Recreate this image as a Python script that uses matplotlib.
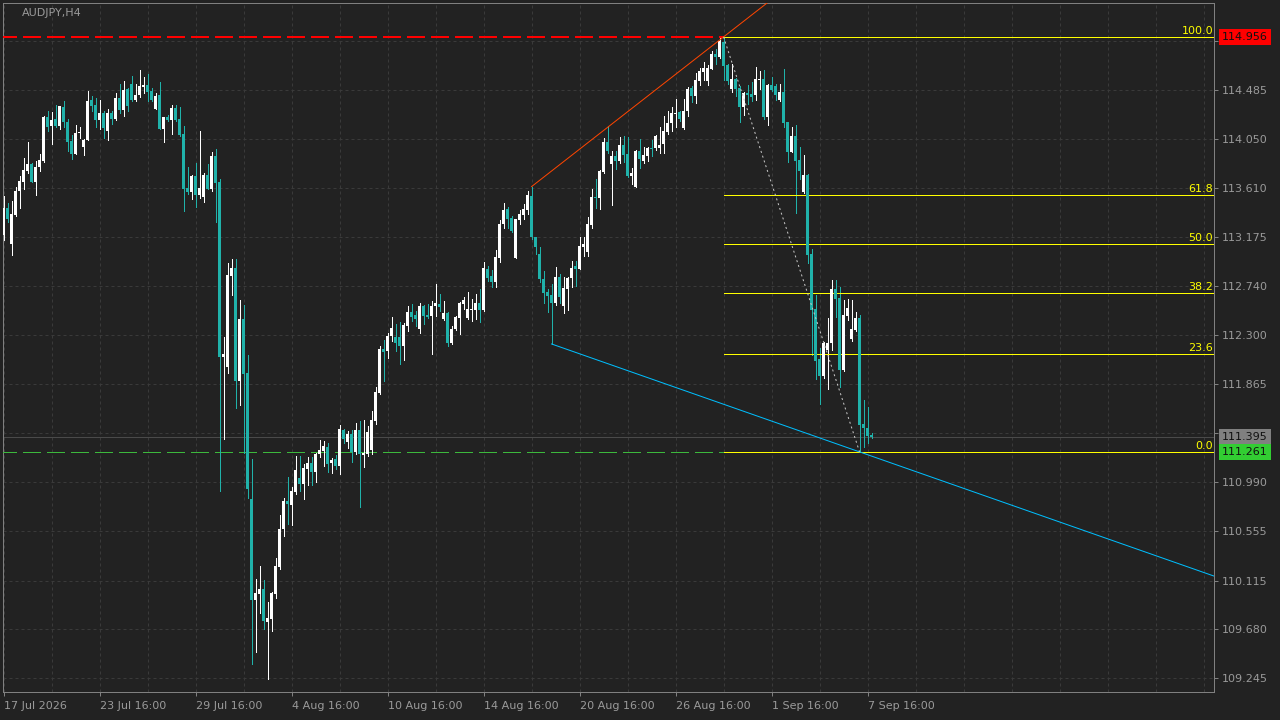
import numpy as np
import matplotlib
matplotlib.use("Agg")
import matplotlib.pyplot as plt
import matplotlib.transforms as mtransforms

symbol = "AUDJPY,H4"

# H4 candles (oldest first)
opens = [
    113.188, 113.431, 113.115, 113.370, 113.581, 113.661, 113.762, 113.824, 113.664, 113.799,
    113.850, 114.242, 114.162, 114.224, 114.162, 114.333, 114.198, 114.031, 113.915, 114.097,
    113.980, 114.035, 114.395, 114.351, 114.217, 114.278, 114.115, 114.278, 114.224, 114.413,
    114.308, 114.493, 114.537, 114.398, 114.435, 114.511, 114.529, 114.475, 114.315, 114.438,
    114.140, 114.242, 114.213, 114.322, 114.224, 114.093, 113.610, 113.577, 113.719, 113.551,
    113.530, 113.726, 113.606, 113.893, 113.664, 112.108, 112.014, 112.827, 112.899, 111.893,
    112.445, 111.964, 110.842, 109.943, 109.996, 110.041, 109.750, 109.773, 109.996, 110.239,
    110.575, 110.824, 110.788, 110.904, 111.029, 110.976, 111.109, 111.162, 111.082, 111.243,
    111.266, 111.305, 111.162, 111.198, 111.136, 111.456, 111.349, 111.421, 111.260, 111.456,
    111.237, 111.243, 111.278, 111.536, 111.786, 112.178, 112.160, 112.293, 112.284, 112.284,
    112.204, 112.382, 112.507, 112.480, 112.356, 112.560, 112.480, 112.471, 112.560, 112.578,
    112.445, 112.498, 112.228, 112.359, 112.457, 112.578, 112.457, 112.528, 112.528, 112.587,
    112.528, 112.890, 112.828, 112.777, 112.988, 113.291, 113.424, 113.347, 112.991, 113.326,
    113.371, 113.415, 113.543, 113.175, 113.024, 112.801, 112.688, 112.658, 112.584, 112.819,
    112.563, 112.715, 112.810, 112.917, 112.893, 113.089, 113.041, 113.282, 113.531, 113.525,
    113.757, 114.021, 113.828, 113.896, 113.855, 113.991, 113.914, 113.721, 113.623, 113.941,
    113.855, 113.896, 113.970, 113.964, 113.970, 114.006, 114.113, 114.187, 114.273, 114.291,
    114.145, 114.297, 114.502, 114.433, 114.567, 114.647, 114.567, 114.674, 114.807, 114.778,
    114.911, 114.709, 114.493, 114.582, 114.502, 114.335, 114.457, 114.448, 114.439, 114.573,
    114.582, 114.243, 114.528, 114.519, 114.395, 114.466, 114.199, 113.932, 114.074, 113.861,
    113.576, 113.727, 113.024, 112.534, 112.089, 111.937, 112.169, 112.231, 112.712, 112.632,
    111.991, 112.471, 112.267, 112.347, 112.454, 111.510, 111.474, 111.412,
]
highs = [
    113.541, 113.479, 113.497, 113.624, 113.715, 113.879, 114.017, 113.835, 113.850, 113.911,
    114.253, 114.293, 114.289, 114.351, 114.344, 114.388, 114.224, 114.086, 114.169, 114.151,
    114.049, 114.475, 114.431, 114.409, 114.395, 114.293, 114.315, 114.293, 114.453, 114.537,
    114.566, 114.504, 114.609, 114.533, 114.664, 114.598, 114.627, 114.497, 114.460, 114.555,
    114.242, 114.264, 114.351, 114.351, 114.333, 114.162, 113.799, 113.726, 113.835, 114.115,
    113.744, 113.824, 113.933, 113.959, 113.690, 112.283, 112.944, 112.979, 112.979, 112.614,
    112.569, 112.124, 111.198, 110.130, 110.245, 110.121, 109.925, 110.011, 110.317, 110.699,
    110.848, 111.035, 110.949, 111.225, 111.225, 111.154, 111.216, 111.216, 111.251, 111.367,
    111.358, 111.341, 111.207, 111.234, 111.501, 111.465, 111.447, 111.456, 111.519, 111.536,
    111.545, 111.492, 111.625, 111.839, 112.204, 112.258, 112.320, 112.462, 112.400, 112.418,
    112.409, 112.560, 112.578, 112.516, 112.587, 112.569, 112.578, 112.605, 112.756, 112.667,
    112.605, 112.507, 112.385, 112.475, 112.599, 112.641, 112.685, 112.626, 112.667, 112.712,
    112.952, 112.917, 112.881, 113.059, 113.326, 113.481, 113.445, 113.365, 113.335, 113.418,
    113.469, 113.587, 113.623, 113.175, 113.089, 112.875, 112.709, 112.756, 112.908, 112.848,
    112.819, 112.819, 112.961, 112.964, 113.178, 113.178, 113.356, 113.602, 113.691, 113.771,
    114.053, 114.163, 113.938, 113.938, 114.062, 114.074, 114.062, 113.786, 113.950, 114.050,
    113.976, 113.979, 114.039, 114.083, 114.154, 114.252, 114.297, 114.329, 114.401, 114.297,
    114.401, 114.510, 114.519, 114.635, 114.683, 114.733, 114.706, 114.834, 114.849, 114.945,
    114.956, 114.718, 114.718, 114.594, 114.519, 114.466, 114.528, 114.555, 114.689, 114.653,
    114.662, 114.537, 114.599, 114.537, 114.537, 114.671, 114.199, 114.154, 114.172, 113.976,
    113.905, 113.736, 113.068, 112.658, 112.187, 112.240, 112.454, 112.792, 112.792, 112.730,
    112.614, 112.623, 112.614, 112.507, 112.480, 111.724, 111.661, 111.430,
]
lows = [
    113.152, 113.308, 113.017, 113.362, 113.435, 113.606, 113.741, 113.661, 113.551, 113.766,
    113.842, 114.122, 114.006, 114.158, 114.140, 114.158, 113.944, 113.871, 113.915, 114.060,
    113.908, 114.035, 114.297, 114.158, 114.133, 114.060, 114.035, 114.180, 114.217, 114.278,
    114.253, 114.297, 114.388, 114.388, 114.417, 114.460, 114.388, 114.388, 114.315, 114.133,
    114.017, 114.206, 114.093, 114.206, 114.075, 113.410, 113.559, 113.515, 113.442, 113.526,
    113.482, 113.599, 113.588, 113.312, 110.909, 111.378, 111.963, 112.658, 111.655, 111.679,
    111.249, 110.851, 109.373, 109.483, 109.830, 109.684, 109.242, 109.670, 109.963, 110.219,
    110.515, 110.619, 110.610, 110.886, 110.913, 110.842, 110.967, 110.967, 110.993, 111.216,
    111.136, 111.082, 111.073, 111.109, 111.064, 111.341, 111.296, 111.171, 111.243, 110.771,
    111.127, 111.225, 111.243, 111.510, 111.777, 111.893, 112.097, 112.249, 112.160, 112.044,
    112.080, 112.338, 112.427, 112.382, 112.320, 112.400, 112.454, 112.133, 112.471, 112.516,
    112.436, 112.204, 112.222, 112.350, 112.314, 112.537, 112.448, 112.430, 112.448, 112.421,
    112.519, 112.783, 112.733, 112.733, 112.955, 113.258, 113.258, 113.219, 112.991, 113.291,
    113.335, 113.380, 113.157, 113.027, 112.777, 112.590, 112.510, 112.222, 112.572, 112.584,
    112.501, 112.528, 112.733, 112.739, 112.893, 113.009, 113.009, 113.258, 113.436, 113.427,
    113.748, 113.926, 113.463, 113.777, 113.837, 113.843, 113.712, 113.647, 113.620, 113.786,
    113.837, 113.855, 113.896, 113.950, 113.926, 113.926, 114.092, 114.122, 114.157, 114.211,
    114.134, 114.252, 114.374, 114.368, 114.528, 114.573, 114.528, 114.671, 114.712, 114.769,
    114.576, 114.537, 114.466, 114.433, 114.199, 114.261, 114.359, 114.386, 114.395, 114.493,
    114.226, 114.172, 114.475, 114.395, 114.386, 114.154, 113.843, 113.932, 113.389, 113.691,
    113.567, 112.943, 112.124, 111.911, 111.688, 111.922, 111.822, 112.169, 112.463, 111.839,
    111.982, 112.436, 112.249, 112.338, 111.261, 111.305, 111.341, 111.385,
]
closes = [
    113.431, 113.333, 113.381, 113.584, 113.675, 113.773, 113.824, 113.664, 113.799, 113.860,
    114.242, 114.158, 114.217, 114.162, 114.337, 114.195, 114.024, 113.915, 114.097, 114.111,
    114.039, 114.388, 114.340, 114.217, 114.278, 114.144, 114.278, 114.224, 114.413, 114.308,
    114.486, 114.344, 114.398, 114.438, 114.515, 114.529, 114.467, 114.398, 114.431, 114.137,
    114.242, 114.213, 114.322, 114.213, 114.082, 113.606, 113.577, 113.719, 113.551, 113.610,
    113.726, 113.606, 113.893, 113.653, 112.108, 112.137, 112.835, 112.899, 111.893, 112.445,
    111.955, 110.931, 109.943, 110.008, 110.041, 109.758, 109.782, 110.002, 110.245, 110.575,
    110.824, 110.797, 110.913, 111.100, 110.976, 111.118, 111.162, 111.082, 111.243, 111.278,
    111.314, 111.154, 111.189, 111.136, 111.465, 111.376, 111.421, 111.260, 111.456, 111.243,
    111.251, 111.438, 111.545, 111.795, 112.178, 112.151, 112.293, 112.364, 112.231, 112.204,
    112.391, 112.507, 112.462, 112.445, 112.560, 112.471, 112.462, 112.560, 112.587, 112.551,
    112.498, 112.231, 112.359, 112.466, 112.590, 112.614, 112.534, 112.537, 112.587, 112.528,
    112.899, 112.813, 112.777, 112.997, 113.291, 113.415, 113.338, 113.228, 113.335, 113.380,
    113.424, 113.549, 113.175, 113.089, 112.801, 112.679, 112.650, 112.590, 112.819, 112.644,
    112.721, 112.810, 112.902, 112.893, 113.095, 113.113, 113.294, 113.531, 113.525, 113.763,
    114.021, 113.941, 113.896, 113.855, 113.991, 113.905, 113.721, 113.748, 113.941, 113.872,
    113.905, 113.970, 113.961, 114.074, 113.994, 114.119, 114.190, 114.279, 114.282, 114.226,
    114.297, 114.493, 114.433, 114.573, 114.656, 114.683, 114.680, 114.807, 114.781, 114.917,
    114.700, 114.567, 114.585, 114.493, 114.332, 114.457, 114.439, 114.421, 114.582, 114.582,
    114.243, 114.528, 114.484, 114.439, 114.466, 114.190, 113.932, 114.074, 113.852, 113.763,
    113.727, 113.015, 112.525, 112.071, 111.937, 112.231, 112.231, 112.712, 112.623, 111.991,
    112.480, 112.543, 112.356, 112.454, 111.501, 111.474, 111.403, 111.395,
]

date_labels = ["17 Jul 2026", "23 Jul 16:00", "29 Jul 16:00", "4 Aug 16:00", "10 Aug 16:00",
               "14 Aug 16:00", "20 Aug 16:00", "26 Aug 16:00", "1 Sep 16:00", "7 Sep 16:00"]
date_label_bars = [0, 24, 48, 72, 96, 120, 144, 168, 192, 216]
price_ticks = [114.920, 114.485, 114.050, 113.610, 113.175, 112.740, 112.300,
               111.865, 111.430, 110.990, 110.555, 110.115, 109.680, 109.245]
# these two scale labels sit under the price boxes
hidden_ticks = [114.920, 111.430]

fib_levels = [0.0, 23.6, 38.2, 50.0, 61.8, 100.0]
fib_high_bar = 180
fib_low_bar = 214
up_line_bars = (132, 180)     # red-orange trend line through two highs
down_line_bars = (137, 214)   # blue trend line through two lows

BG = "#222222"
TXT = "#9a9a9a"
GRID = "#3a3a3a"
TEAL = "#20b2aa"
PX = 0.72  # one pixel in points at dpi 100

o = np.array(opens)
h = np.array(highs)
l = np.array(lows)
c = np.array(closes)
x = np.arange(len(o))

fig = plt.figure(figsize=(12.8, 7.2), dpi=100, facecolor=BG)
ax = fig.add_axes([3 / 1280, 28 / 720, 1211 / 1280, 689 / 720])
ax.set_facecolor(BG)
ax.set_xlim(-0.125, 302.6)
ax.set_ylim(109.123, 115.258)

# candles
up = c >= o
bottom = np.minimum(o, c)
height = np.maximum(np.abs(c - o), 0.009)
for mask, col in ((up, "white"), (~up, TEAL)):
    ax.vlines(x[mask], l[mask], h[mask], color=col, lw=PX, antialiased=False, zorder=4)
    ax.bar(x[mask], height[mask], bottom=bottom[mask], width=0.85, color=col,
           linewidth=0, antialiased=False, zorder=5)

hi = h[fib_high_bar]
lo = l[fib_low_bar]
last = c[-1]
xr = ax.get_xlim()[1]

# horizontal lines
ax.hlines(hi, -1, fib_high_bar, color="#ff0000", lw=2 * PX, linestyles=(0, (9, 3)),
          antialiased=False, zorder=3)
ax.hlines(lo, -1, fib_high_bar, color="#3cb83c", lw=PX, linestyles=(0, (18, 6)),
          antialiased=False, zorder=3)
ax.hlines(last, -1, xr, color="#4a4a4a", lw=PX, antialiased=False, zorder=2)

# trend lines (rays to the right)
b0, b1 = up_line_bars
k = (h[b1] - h[b0]) / (b1 - b0)
ax.plot([b0, xr], [h[b0], h[b0] + k * (xr - b0)], color="#ff4500", lw=PX, zorder=6)
b0, b1 = down_line_bars
k = (l[b1] - l[b0]) / (b1 - b0)
ax.plot([b0, xr], [l[b0], l[b0] + k * (xr - b0)], color="#00bfff", lw=PX, zorder=6)

# fibonacci retracement
ax.plot([fib_high_bar, fib_low_bar], [hi, lo], color="#c8c8c8", lw=PX,
        linestyle=(0, (2, 3)), zorder=6)
axy = mtransforms.blended_transform_factory(ax.transAxes, ax.transData)
for lev in fib_levels:
    p = lo + (hi - lo) * lev / 100
    ax.hlines(p, fib_high_bar, xr, color="#ffff00", lw=PX, antialiased=False, zorder=4)
    ax.text(1 - 1 / 1211, p + 0.012, f"{lev:.1f}", transform=axy, ha="right", va="bottom",
            color="#ffff00", fontsize=8, zorder=7)

# axes styling
for s in ax.spines.values():
    s.set_color("#808080")
    s.set_linewidth(PX)
ax.yaxis.tick_right()
ax.set_yticks(price_ticks)
ax.set_yticklabels(["" if v in hidden_ticks else f"{v:.3f}" for v in price_ticks])
ax.tick_params(axis="y", colors="#808080", labelcolor=TXT, labelsize=8,
               length=4 * PX, width=PX, pad=4 * PX)
ax.set_xticks(date_label_bars)
ax.set_xticklabels(date_labels, ha="left")
ax.set_xticks(np.arange(0, 303, 12), minor=True)
ax.tick_params(axis="x", which="major", colors="#808080", labelcolor=TXT, labelsize=8,
               length=4 * PX, width=PX, pad=5 * PX)
ax.tick_params(axis="x", which="minor", length=0)
ax.grid(True, which="both", axis="x", color=GRID, lw=PX, linestyle=(0, (3, 3)))
ax.grid(True, which="major", axis="y", color=GRID, lw=PX, linestyle=(0, (3, 3)))
ax.set_axisbelow(True)

# price boxes on the right scale
for val, fc in ((hi, "#ff0000"), (last, "#808080"), (lo, "#32cd32")):
    ax.text(1 + 8 / 1211, val, f"{val:.3f}", transform=axy, ha="left", va="center",
            fontsize=8, color="#111111", clip_on=False, zorder=10,
            bbox=dict(boxstyle="square,pad=0.25", fc=fc, ec="none"))

fig.text(22 / 1280, 1 - 13 / 720, symbol, color=TXT, fontsize=8, va="center", ha="left")

fig.savefig("out.png", dpi=100, facecolor=BG)
